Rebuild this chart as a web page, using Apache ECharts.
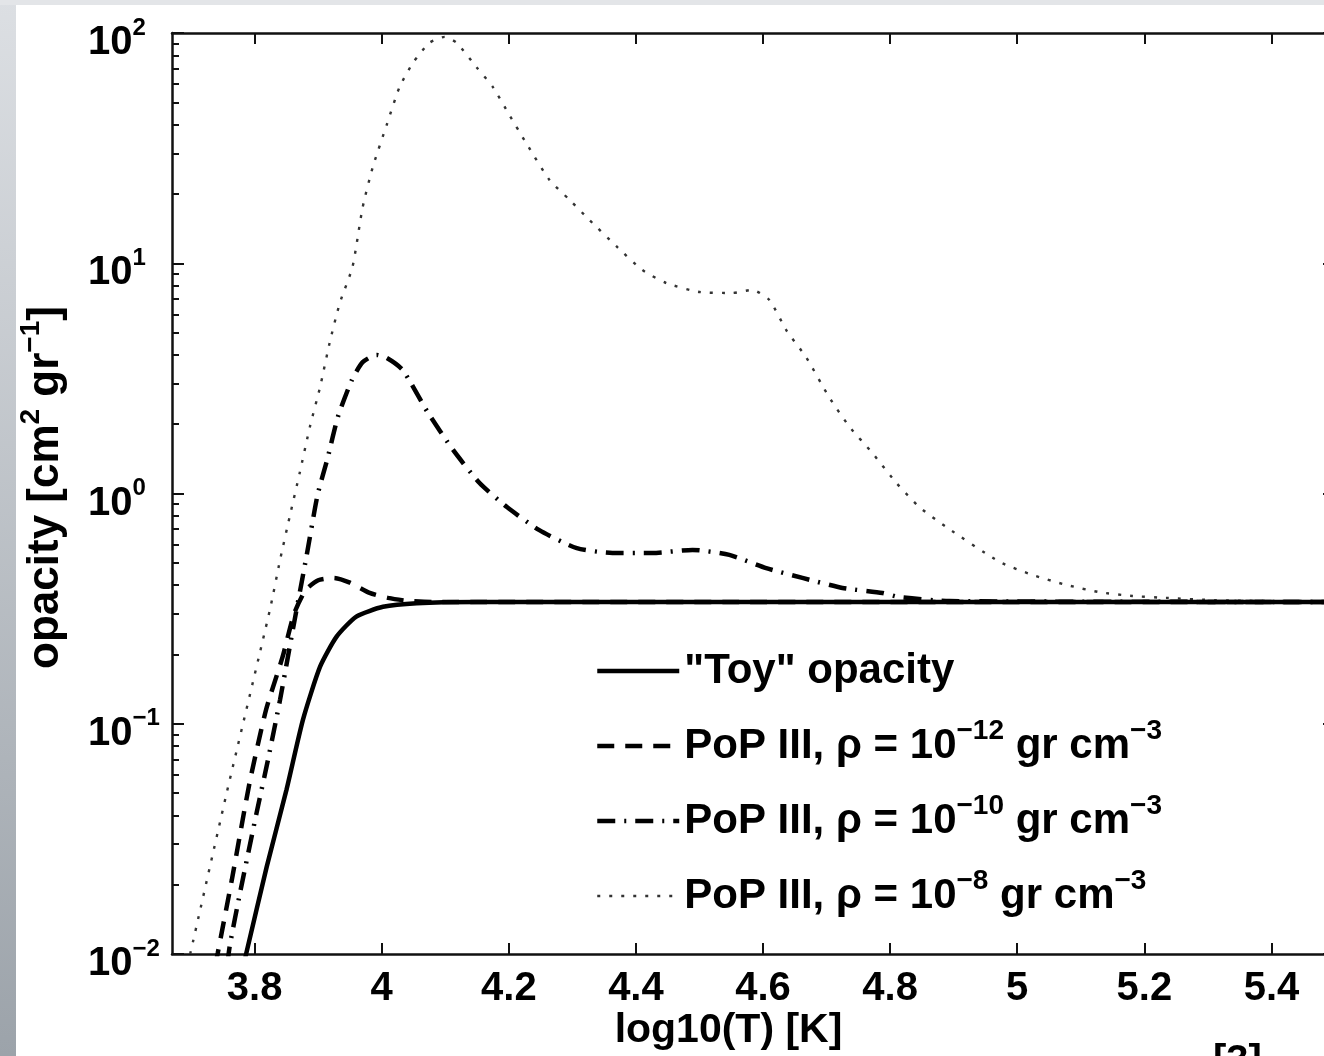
<!DOCTYPE html>
<html>
<head>
<meta charset="utf-8">
<title>Opacity vs temperature</title>
<script src="https://cdn.jsdelivr.net/npm/echarts@6/dist/echarts.min.js"></script>
<style>
html, body { margin: 0; padding: 0; background: #fff; }
#side { position: absolute; left: 0; top: 0; width: 16px; height: 1056px; background: linear-gradient(#dcdfe3, #9ca3aa); }
#topbar { position: absolute; left: 0; top: 0; width: 1324px; height: 5px; background: #e3e5e8; }
#chart { position: absolute; left: 0; top: 0; width: 1324px; height: 1056px; }
</style>
</head>
<body>
<div id="side"></div>
<div id="topbar"></div>
<div id="chart"></div>
<script>
var FONT = '"Liberation Sans", Arial, Helvetica, sans-serif';

// axis ticks
var xTicks = [3.8, 4.0, 4.2, 4.4, 4.6, 4.8, 5.0, 5.2, 5.4];
var xTickLabels = ['3.8', '4', '4.2', '4.4', '4.6', '4.8', '5', '5.2', '5.4'];
var yMajor = [0.01, 0.1, 1, 10, 100];
var yExponents = ['\u22122', '\u22121', '0', '1', '2'];
var yDecades = [0.01, 0.1, 1, 10];
var yMinorSteps = [2, 3, 4, 5, 6, 7, 8, 9];

// series: log10(T) and opacity
var tToy = [3.783, 3.787, 3.819, 3.850, 3.876, 3.903, 3.929, 3.960, 4.002, 4.055, 4.150, 5.500];
var kToy = [0.0090, 0.0101, 0.0239, 0.0515, 0.104, 0.177, 0.239, 0.292, 0.322, 0.334, 0.338, 0.338];

var tPop12 = [3.738, 3.742, 3.764, 3.792, 3.818, 3.844, 3.862, 3.880, 3.900, 3.925, 3.950, 3.981, 4.010, 4.040, 4.080, 5.500];
var kPop12 = [0.0089, 0.0101, 0.0209, 0.0553, 0.115, 0.195, 0.300, 0.380, 0.420, 0.430, 0.410, 0.370, 0.352, 0.342, 0.338, 0.338];

var tPop10 = [3.757, 3.761, 3.777, 3.803, 3.821, 3.840, 3.860, 3.882, 3.899, 3.915, 3.931, 3.953, 3.970, 3.992, 4.008, 4.033, 4.072, 4.112, 4.154, 4.197, 4.248, 4.307, 4.363, 4.426, 4.489, 4.547, 4.605, 4.662, 4.725, 4.788, 4.814, 4.893, 5.500];
var kPop10 = [0.0090, 0.0109, 0.0184, 0.0409, 0.0697, 0.127, 0.255, 0.541, 0.984, 1.43, 2.15, 3.11, 3.72, 4.00, 3.88, 3.44, 2.26, 1.55, 1.11, 0.873, 0.693, 0.579, 0.552, 0.552, 0.569, 0.541, 0.474, 0.430, 0.389, 0.370, 0.355, 0.341, 0.338];

var tPop8 = [3.690, 3.703, 3.756, 3.824, 3.840, 3.855, 3.871, 3.887, 3.903, 3.918, 3.934, 3.954, 3.970, 3.986, 4.008, 4.028, 4.049, 4.075, 4.099, 4.118, 4.149, 4.175, 4.201, 4.228, 4.264, 4.296, 4.327, 4.370, 4.410, 4.448, 4.500, 4.552, 4.583, 4.610, 4.637, 4.668, 4.704, 4.736, 4.772, 4.810, 4.846, 4.888, 4.972, 5.024, 5.077, 5.129, 5.181, 5.234, 5.313, 5.500];
var kPop8 = [0.0079, 0.0113, 0.050, 0.312, 0.514, 0.79, 1.23, 1.95, 2.90, 4.51, 6.71, 9.64, 17.5, 26.2, 40.0, 58.2, 74.1, 90.6, 96.2, 90.6, 71.1, 58.2, 44.0, 33.0, 23.0, 18.8, 15.4, 11.8, 9.35, 8.20, 7.50, 7.43, 7.66, 6.92, 5.10, 3.90, 2.62, 1.95, 1.50, 1.11, 0.873, 0.716, 0.505, 0.443, 0.401, 0.373, 0.359, 0.352, 0.344, 0.338];

var seriesNames = ['"Toy" opacity', 'PoP III, rho=1e-12', 'PoP III, rho=1e-10', 'PoP III, rho=1e-8'];
var legendTexts = [
    '{b|"Toy" opacity}',
    '{b|PoP III, \u03c1 = 10}{s|\u221212}{b| gr cm}{s|\u22123}',
    '{b|PoP III, \u03c1 = 10}{s|\u221210}{b| gr cm}{s|\u22123}',
    '{b|PoP III, \u03c1 = 10}{s|\u22128}{b| gr cm}{s|\u22123}'
];
var lineWidths = [4.5, 4.5, 4.5, 2.4];

var yMinor = [];
yDecades.forEach(function (d) {
    yMinorSteps.forEach(function (m) { yMinor.push(+(d * m).toPrecision(3)); });
});

function pairs(t, k) {
    return t.map(function (x, i) { return [x, k[i]]; });
}

var axisColor = '#111';

function yAxisBase(position, ticks, len, withLine) {
    return {
        type: 'log', logBase: 10, min: 0.01, max: 100, position: position,
        axisLine: { show: withLine, onZero: false, lineStyle: { color: axisColor, width: 2.5 } },
        axisTick: { show: true, inside: true, length: len, customValues: ticks, lineStyle: { color: axisColor, width: 2 } },
        axisLabel: { show: false },
        splitLine: { show: false }, minorTick: { show: false }
    };
}

var yLeft = yAxisBase('left', yMajor, 12, true);
yLeft.axisLabel = {
    show: true, customValues: yMajor, align: 'left', margin: 84, padding: [20, 0, 0, 0],
    formatter: function (v) {
        var i = Math.round(Math.log10(v)) + 2;
        return '{b|10}{s|' + yExponents[i] + '}';
    },
    rich: {
        b: { fontSize: 40, lineHeight: 54, fontWeight: 'bold', fontFamily: FONT, color: '#000' },
        s: { fontSize: 24, lineHeight: 24, fontWeight: 'bold', fontFamily: FONT, color: '#000', verticalAlign: 'top' }
    }
};
yLeft.name = '{b|opacity [cm}{s|2}{b| gr}{s|\u22121}{b|]}';
yLeft.nameLocation = 'middle';
yLeft.nameGap = 97;
yLeft.nameMoveOverlap = false;
yLeft.nameTextStyle = {
    padding: [0, 0, 0, 12],
    rich: {
        b: { fontSize: 44, lineHeight: 58, fontWeight: 'bold', fontFamily: FONT, color: '#000' },
        s: { fontSize: 28, lineHeight: 28, fontWeight: 'bold', fontFamily: FONT, color: '#000', verticalAlign: 'top' }
    }
};

var option = {
    animation: false,
    backgroundColor: 'transparent',
    title: {
        text: '[3]', left: 1213, top: 1042, padding: 0,
        textStyle: { fontSize: 40, lineHeight: 40, fontWeight: 'bold', fontFamily: FONT, color: '#000' }
    },
    grid: { left: 172, right: -11, top: 33, bottom: 102, containLabel: false, outerBoundsMode: 'none' },
    legend: {
        show: true, orient: 'vertical', left: 595, top: 650, padding: 0,
        itemWidth: 82, itemHeight: 14, itemGap: 25, selectedMode: false,
        data: seriesNames.map(function (n, i) {
            return { name: n, lineStyle: { width: lineWidths[i] } };
        }),
        itemStyle: { opacity: 0 },
        formatter: function (name) { return legendTexts[seriesNames.indexOf(name)]; },
        textStyle: {
            color: '#000',
            rich: {
                b: { fontSize: 42, lineHeight: 58, fontWeight: 'bold', fontFamily: FONT, color: '#000' },
                s: { fontSize: 28, lineHeight: 28, fontWeight: 'bold', fontFamily: FONT, color: '#000', verticalAlign: 'top' }
            }
        }
    },
    xAxis: [
        {
            type: 'value', min: 3.67, max: 5.5, position: 'bottom',
            axisLine: { show: true, onZero: false, lineStyle: { color: axisColor, width: 2.5 } },
            axisTick: { show: true, inside: true, length: 11, customValues: xTicks, lineStyle: { color: axisColor, width: 2 } },
            axisLabel: {
                show: true, customValues: xTicks, margin: 15,
                formatter: function (v) {
                    var i = xTicks.findIndex(function (t) { return Math.abs(t - v) < 1e-6; });
                    return i >= 0 ? xTickLabels[i] : '';
                },
                color: '#000', fontSize: 40, lineHeight: 40, fontWeight: 'bold', fontFamily: FONT
            },
            splitLine: { show: false },
            name: 'log10(T) [K]', nameLocation: 'middle', nameGap: 54, nameMoveOverlap: false,
            nameTextStyle: { color: '#000', fontSize: 41, lineHeight: 46, fontWeight: 'bold', fontFamily: FONT, padding: [0, 50, 0, 0] }
        },
        {
            type: 'value', min: 3.67, max: 5.5, position: 'top',
            axisLine: { show: true, onZero: false, lineStyle: { color: axisColor, width: 2.5 } },
            axisTick: { show: true, inside: true, length: 11, customValues: xTicks, lineStyle: { color: axisColor, width: 2 } },
            axisLabel: { show: false },
            splitLine: { show: false }
        }
    ],
    yAxis: [
        yLeft,
        yAxisBase('left', yMinor, 7, false),
        yAxisBase('right', yMajor, 12, true),
        yAxisBase('right', yMinor, 7, false)
    ],
    series: [
        {
            name: seriesNames[0], type: 'line', data: pairs(tToy, kToy), z: 5,
            symbol: 'none', showSymbol: false, smooth: 0.2, clip: true,
            lineStyle: { color: '#000', width: lineWidths[0], type: 'solid' }
        },
        {
            name: seriesNames[1], type: 'line', data: pairs(tPop12, kPop12),
            symbol: 'none', showSymbol: false, smooth: 0.2, clip: true,
            lineStyle: { color: '#000', width: lineWidths[1], type: [17, 11] }
        },
        {
            name: seriesNames[2], type: 'line', data: pairs(tPop10, kPop10),
            symbol: 'none', showSymbol: false, smooth: 0.2, clip: true,
            lineStyle: { color: '#000', width: lineWidths[2], type: [18, 9, 2, 9] }
        },
        {
            name: seriesNames[3], type: 'line', data: pairs(tPop8, kPop8),
            symbol: 'none', showSymbol: false, smooth: 0.2, clip: true,
            lineStyle: { color: '#333', width: lineWidths[3], type: [3, 9] }
        }
    ]
};

var chart = echarts.init(document.getElementById('chart'), null, { renderer: 'canvas' });
chart.setOption(option);
</script>
</body>
</html>
